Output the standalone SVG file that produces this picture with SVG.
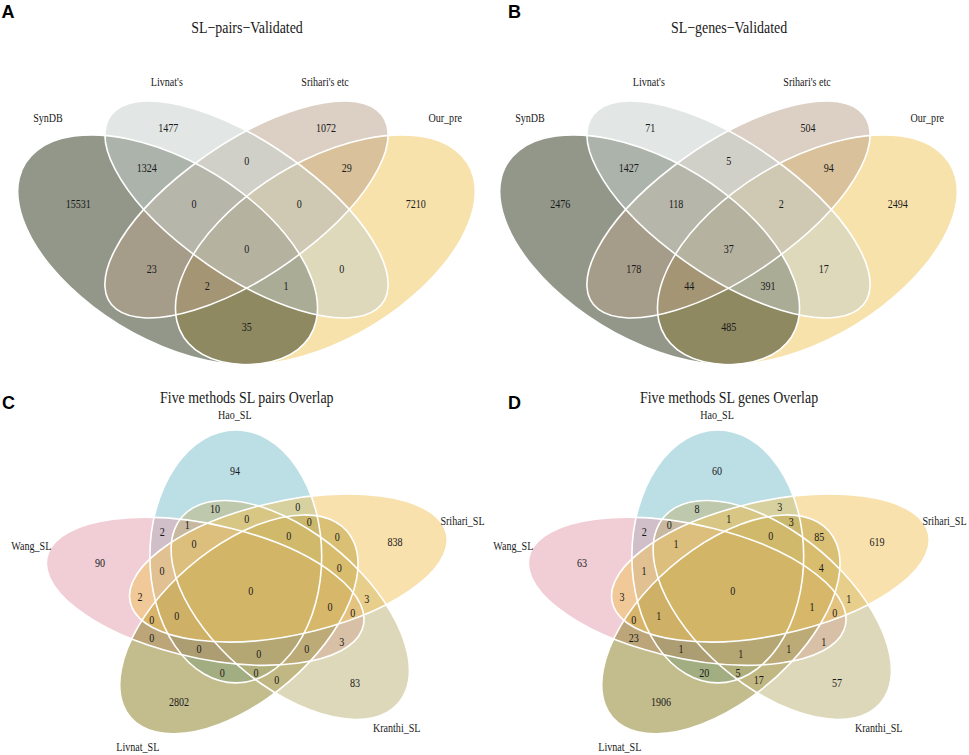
<svg xmlns="http://www.w3.org/2000/svg" xmlns:xlink="http://www.w3.org/1999/xlink" width="969" height="755" viewBox="0 0 969 755">
<style>
.t{font-family:"Liberation Serif","Times New Roman",serif;font-size:12.3px;text-anchor:middle;fill:#1a1a1a;transform-box:fill-box;transform-origin:center;transform:scaleX(.82)}
.ti{font-size:17px}
.lt{font-family:"Liberation Sans",Arial,sans-serif;font-size:18px;font-weight:bold;fill:#000}
.f{fill-opacity:.5;stroke:none}
.o{fill:none;stroke:#fff;stroke-width:1.6;vector-effect:non-scaling-stroke}
</style>
<defs>
<g id="v4">
<ellipse class="f" rx=".35" ry=".2" transform="translate(.65 .47) rotate(45)" fill="#f1c559"/>
<ellipse class="f" rx=".35" ry=".2" transform="translate(.35 .47) rotate(-45)" fill="#252f15"/>
<ellipse class="f" rx=".35" ry=".15" transform="translate(.5 .57) rotate(45)" fill="#b9a189"/>
<ellipse class="f" rx=".35" ry=".15" transform="translate(.5 .57) rotate(-45)" fill="#c5cfcb"/>
<ellipse class="o" vector-effect="non-scaling-stroke" rx=".35" ry=".2" transform="translate(.65 .47) rotate(45)"/>
<ellipse class="o" vector-effect="non-scaling-stroke" rx=".35" ry=".2" transform="translate(.35 .47) rotate(-45)"/>
<ellipse class="o" vector-effect="non-scaling-stroke" rx=".35" ry=".15" transform="translate(.5 .57) rotate(45)"/>
<ellipse class="o" vector-effect="non-scaling-stroke" rx=".35" ry=".15" transform="translate(.5 .57) rotate(-45)"/>
</g>
<g id="v5">
<ellipse class="f" rx=".46" ry=".24" transform="translate(-.04446 .12216) rotate(90)" fill="#79bdcb"/>
<ellipse class="f" rx=".46" ry=".24" transform="translate(-.12992 -.00454) rotate(162)" fill="#e39dab"/>
<ellipse class="f" rx=".46" ry=".24" transform="translate(-.03583 -.12496) rotate(54)" fill="#877b1d"/>
<ellipse class="f" rx=".46" ry=".24" transform="translate(.10778 -.0727) rotate(-54)" fill="#bdb175"/>
<ellipse class="f" rx=".46" ry=".24" transform="translate(.10244 .08004) rotate(18)" fill="#f1c35b"/>
<ellipse class="o" vector-effect="non-scaling-stroke" rx=".46" ry=".24" transform="translate(-.04446 .12216) rotate(90)"/>
<ellipse class="o" vector-effect="non-scaling-stroke" rx=".46" ry=".24" transform="translate(-.12992 -.00454) rotate(162)"/>
<ellipse class="o" vector-effect="non-scaling-stroke" rx=".46" ry=".24" transform="translate(-.03583 -.12496) rotate(54)"/>
<ellipse class="o" vector-effect="non-scaling-stroke" rx=".46" ry=".24" transform="translate(.10778 -.0727) rotate(-54)"/>
<ellipse class="o" vector-effect="non-scaling-stroke" rx=".46" ry=".24" transform="translate(.10244 .08004) rotate(18)"/>
</g>
</defs>
<rect width="969" height="755" fill="#fff"/>

<g id="panelA">
<use href="#v4" xlink:href="#v4" transform="matrix(526,0,0,-403,-16.5,439.2)"/>
<text class="lt" x="1.5" y="17.5">A</text>
<text class="t ti" x="247" y="33.3">SL−pairs−Validated</text>
<text class="t" x="166.8" y="86">Livnat's</text>
<text class="t" x="325" y="86">Srihari's etc</text>
<text class="t" x="48" y="121.7">SynDB</text>
<text class="t" x="445.2" y="121.7">Our_pre</text>
<text class="t" x="168.3" y="131.9">1477</text>
<text class="t" x="326" y="131.9">1072</text>
<text class="t" x="246.7" y="164.9">0</text>
<text class="t" x="146.7" y="172.5">1324</text>
<text class="t" x="346.7" y="172.5">29</text>
<text class="t" x="78.3" y="208.5">15531</text>
<text class="t" x="194" y="208.5">0</text>
<text class="t" x="299.3" y="208.5">0</text>
<text class="t" x="415.7" y="208.5">7210</text>
<text class="t" x="246.7" y="253.5">0</text>
<text class="t" x="151.7" y="273.5">23</text>
<text class="t" x="341.7" y="273.5">0</text>
<text class="t" x="207.3" y="289.9">2</text>
<text class="t" x="286" y="289.9">1</text>
<text class="t" x="246.7" y="330.9">35</text>
</g>

<g id="panelB">
<use href="#v4" xlink:href="#v4" transform="matrix(526,0,0,-403,465.5,439.2)"/>
<text class="lt" x="508" y="17.5">B</text>
<text class="t ti" x="729" y="33.3">SL−genes−Validated</text>
<text class="t" x="648.8" y="86">Livnat's</text>
<text class="t" x="807" y="86">Srihari's etc</text>
<text class="t" x="530" y="121.7">SynDB</text>
<text class="t" x="927.2" y="121.7">Our_pre</text>
<text class="t" x="650.3" y="131.9">71</text>
<text class="t" x="808" y="131.9">504</text>
<text class="t" x="728.7" y="164.9">5</text>
<text class="t" x="628.7" y="172.5">1427</text>
<text class="t" x="828.7" y="172.5">94</text>
<text class="t" x="560.3" y="208.5">2476</text>
<text class="t" x="676" y="208.5">118</text>
<text class="t" x="781.3" y="208.5">2</text>
<text class="t" x="897.7" y="208.5">2494</text>
<text class="t" x="728.7" y="253.5">37</text>
<text class="t" x="633.7" y="273.5">178</text>
<text class="t" x="823.7" y="273.5">17</text>
<text class="t" x="689.3" y="289.9">44</text>
<text class="t" x="768" y="289.9">391</text>
<text class="t" x="728.7" y="330.9">485</text>
</g>

<g id="panelC">
<use href="#v5" xlink:href="#v5" transform="matrix(358,0,0,-275,251.7,590)"/>
<text class="lt" x="2" y="409">C</text>
<text class="t ti" x="246.8" y="403.3">Five methods SL pairs Overlap</text>
<text class="t" x="234.8" y="419">Hao_SL</text>
<text class="t" x="31.3" y="550">Wang_SL</text>
<text class="t" x="462.5" y="525">Srihari_SL</text>
<text class="t" x="396.7" y="731.7">Kranthi_SL</text>
<text class="t" x="137.8" y="750.7">Livnat_SL</text>
<text class="t" x="235" y="475.2">94</text>
<text class="t" x="215" y="513.5">10</text>
<text class="t" x="297.7" y="510.9">0</text>
<text class="t" x="162.3" y="535.9">2</text>
<text class="t" x="187.3" y="529.2">1</text>
<text class="t" x="246.7" y="523.2">0</text>
<text class="t" x="309.3" y="526.5">0</text>
<text class="t" x="194" y="548.5">0</text>
<text class="t" x="288.7" y="539.9">0</text>
<text class="t" x="337.3" y="540.9">0</text>
<text class="t" x="395" y="545.9">838</text>
<text class="t" x="100" y="567.5">90</text>
<text class="t" x="162" y="575.2">0</text>
<text class="t" x="339.3" y="572.5">0</text>
<text class="t" x="250.7" y="595.2">0</text>
<text class="t" x="140" y="601.2">2</text>
<text class="t" x="366.7" y="603.5">3</text>
<text class="t" x="330" y="610.9">0</text>
<text class="t" x="352.7" y="617.5">0</text>
<text class="t" x="151.7" y="624.2">0</text>
<text class="t" x="176.7" y="620.2">0</text>
<text class="t" x="151.7" y="641.9">0</text>
<text class="t" x="341.7" y="645.9">3</text>
<text class="t" x="199" y="653.5">0</text>
<text class="t" x="258.7" y="658.5">0</text>
<text class="t" x="306.7" y="653.5">0</text>
<text class="t" x="222.3" y="677.5">0</text>
<text class="t" x="256" y="677.5">0</text>
<text class="t" x="276.7" y="684.2">0</text>
<text class="t" x="355" y="686.9">83</text>
<text class="t" x="179" y="706.5">2802</text>
</g>

<g id="panelD">
<use href="#v5" xlink:href="#v5" transform="matrix(358,0,0,-275,733.7,590)"/>
<text class="lt" x="508" y="409">D</text>
<text class="t ti" x="729" y="403.3">Five methods SL genes Overlap</text>
<text class="t" x="717" y="419">Hao_SL</text>
<text class="t" x="513.3" y="550">Wang_SL</text>
<text class="t" x="944.5" y="525">Srihari_SL</text>
<text class="t" x="878.7" y="731.7">Kranthi_SL</text>
<text class="t" x="619.8" y="750.7">Livnat_SL</text>
<text class="t" x="717" y="475.2">60</text>
<text class="t" x="697" y="513.5">8</text>
<text class="t" x="779.7" y="510.9">3</text>
<text class="t" x="644.3" y="535.9">2</text>
<text class="t" x="669.3" y="529.2">0</text>
<text class="t" x="728.7" y="523.2">1</text>
<text class="t" x="791.3" y="526.5">3</text>
<text class="t" x="676" y="548.5">1</text>
<text class="t" x="770.7" y="539.9">0</text>
<text class="t" x="819.3" y="540.9">85</text>
<text class="t" x="877" y="545.9">619</text>
<text class="t" x="582" y="567.5">63</text>
<text class="t" x="644" y="575.2">1</text>
<text class="t" x="821.3" y="572.5">4</text>
<text class="t" x="732.7" y="595.2">0</text>
<text class="t" x="622" y="601.2">3</text>
<text class="t" x="848.7" y="603.5">1</text>
<text class="t" x="812" y="610.9">1</text>
<text class="t" x="834.7" y="617.5">0</text>
<text class="t" x="633.7" y="624.2">0</text>
<text class="t" x="658.7" y="620.2">1</text>
<text class="t" x="633.7" y="641.9">23</text>
<text class="t" x="823.7" y="645.9">1</text>
<text class="t" x="681" y="653.5">1</text>
<text class="t" x="740.7" y="658.5">1</text>
<text class="t" x="788.7" y="653.5">1</text>
<text class="t" x="704.3" y="677.5">20</text>
<text class="t" x="738" y="677.5">5</text>
<text class="t" x="758.7" y="684.2">17</text>
<text class="t" x="837" y="686.9">57</text>
<text class="t" x="661" y="706.5">1906</text>
</g>
</svg>
